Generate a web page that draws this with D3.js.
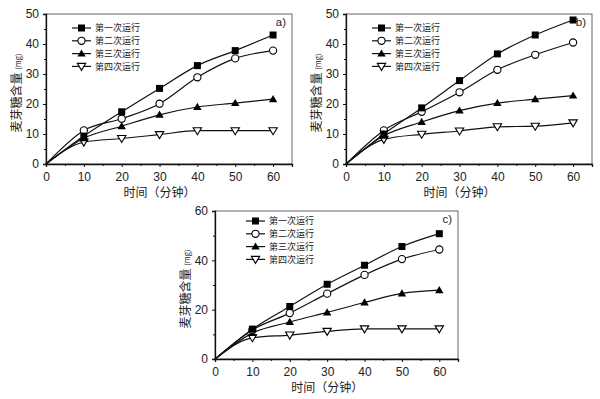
<!DOCTYPE html>
<meta charset="utf-8">
<script src="https://d3js.org/d3.v7.js"></script>
<style>
  body { margin: 0; background: #fff; }
  text { fill: #222; }
</style>
<div id="chart"></div>
<script>
// time points (minutes)
const times = [0, 10, 20, 30, 40, 50, 60];
const seriesNames = ["第一次运行", "第二次运行", "第三次运行", "第四次运行"];

// panel a
const aRun1 = [0, 9.3, 17.4, 25.2, 32.8, 37.8, 43.0];
const aRun2 = [0, 11.2, 15.1, 20.1, 28.9, 35.2, 37.8];
const aRun3 = [0, 8.6, 12.6, 16.4, 19.0, 20.3, 21.6];
const aRun4 = [0, 7.3, 8.5, 9.8, 11.1, 11.1, 11.1];

// panel b
const bRun1 = [0, 10.0, 18.7, 27.8, 36.7, 43.0, 48.0];
const bRun2 = [0, 11.2, 17.4, 23.9, 31.4, 36.4, 40.5];
const bRun3 = [0, 9.4, 14.0, 17.8, 20.3, 21.6, 22.8];
const bRun4 = [0, 8.2, 9.9, 11.0, 12.4, 12.6, 13.7];

// panel c
const cRun1 = [0, 12.1, 21.3, 30.3, 38.0, 45.6, 50.8];
const cRun2 = [0, 11.8, 18.6, 26.5, 34.1, 40.5, 44.4];
const cRun3 = [0, 10.5, 15.0, 18.9, 22.9, 26.6, 27.9];
const cRun4 = [0, 8.6, 9.7, 11.2, 12.2, 12.2, 12.2];

const xTicks = [0, 10, 20, 30, 40, 50, 60];
const yTicksAB = [0, 10, 20, 30, 40, 50];
const yTicksC = [0, 20, 40, 60];

const svg = d3.select("#chart").append("svg")
  .attr("width", 600).attr("height", 399)
  .style("font-family", "'Liberation Sans', Arial, sans-serif");

const cjk = "'Noto Sans CJK SC', sans-serif";

function drawPanel(opts) {
  const x = d3.scaleLinear().domain([0, 65]).range([opts.left, opts.right]);
  const y = d3.scaleLinear().domain([0, opts.ymax]).range([opts.bottom, opts.top]);
  const g = svg.append("g");

  // frame
  g.append("rect")
    .attr("x", x(0)).attr("y", y(opts.ymax))
    .attr("width", x(65) - x(0)).attr("height", y(0) - y(opts.ymax))
    .attr("fill", "none").attr("stroke", "#666").attr("stroke-width", 1);

  // axes
  const xa = g.append("g").attr("transform", `translate(0,${y(0)})`)
    .call(d3.axisBottom(x).tickValues(xTicks).tickSize(3).tickPadding(5));
  g.append("g").attr("transform", `translate(0,${y(0)})`)
    .call(d3.axisBottom(x).tickValues(d3.range(5, 60, 10)).tickSize(2).tickFormat(""))
    .select(".domain").remove();
  const ya = g.append("g").attr("transform", `translate(${x(0)},0)`)
    .call(d3.axisLeft(y).tickValues(opts.yticks).tickSize(3).tickPadding(4));
  g.append("g").attr("transform", `translate(${x(0)},0)`)
    .call(d3.axisLeft(y).tickValues(opts.yminor).tickSize(2).tickFormat(""))
    .select(".domain").remove();
  g.selectAll(".domain").attr("stroke", "#111").attr("stroke-width", 1.3);
  g.selectAll(".tick line").attr("stroke", "#111");
  xa.selectAll("text").attr("font-size", 12).attr("fill", "#222");
  ya.selectAll("text").attr("font-size", 12).attr("fill", "#222");

  // axis titles
  g.append("text")
    .attr("x", (x(0) + x(60)) / 2).attr("y", y(0) + 33)
    .attr("text-anchor", "middle").attr("font-size", 12)
    .style("font-family", cjk).text("时间（分钟）");
  const yl = g.append("text")
    .attr("transform", `translate(${x(0) - 25},${(y(0) + y(opts.ymax)) / 2 + 4}) rotate(-90)`)
    .attr("text-anchor", "middle").attr("font-size", 12)
    .style("font-family", cjk);
  yl.append("tspan").text("麦芽糖含量 ");
  yl.append("tspan").attr("font-size", 7.5).text("(mg)");

  // panel letter
  g.append("text")
    .attr("x", x(65) - 6).attr("y", y(opts.ymax) + 12)
    .attr("text-anchor", "end").attr("font-size", 11.5).text(opts.label);

  const line = d3.line().x(d => x(d[0])).y(d => y(d[1])).curve(d3.curveMonotoneX);
  const shapes = ["square", "circle", "up", "down"];

  function marker(sel, shape, cx, cy) {
    if (shape === "square") {
      sel.append("rect").attr("x", cx - 3.5).attr("y", cy - 3.5)
        .attr("width", 7).attr("height", 7).attr("fill", "#000");
    } else if (shape === "circle") {
      sel.append("circle").attr("cx", cx).attr("cy", cy).attr("r", 3.6)
        .attr("fill", "#fff").attr("stroke", "#000").attr("stroke-width", 1.1);
    } else if (shape === "up") {
      sel.append("path")
        .attr("d", `M${cx},${cy - 4.2}L${cx + 4.2},${cy + 3}L${cx - 4.2},${cy + 3}Z`)
        .attr("fill", "#000");
    } else {
      sel.append("path")
        .attr("d", `M${cx - 4.2},${cy - 3}L${cx + 4.2},${cy - 3}L${cx},${cy + 4}Z`)
        .attr("fill", "#fff").attr("stroke", "#000").attr("stroke-width", 1.1);
    }
  }

  // draw series in reverse so filled markers stay on top
  opts.series.slice().reverse().forEach((vals, ri) => {
    const i = opts.series.length - 1 - ri;
    const pts = times.map((t, k) => [t, vals[k]]);
    g.append("path").datum(pts).attr("d", line)
      .attr("fill", "none").attr("stroke", "#111").attr("stroke-width", 1.2);
    pts.slice(1).forEach(p => marker(g, shapes[i], x(p[0]), y(p[1])));
  });

  // legend
  seriesNames.forEach((name, i) => {
    const ly = opts.legY + i * 12.8;
    g.append("line").attr("x1", opts.legX).attr("x2", opts.legX + 19)
      .attr("y1", ly).attr("y2", ly).attr("stroke", "#111").attr("stroke-width", 1.2);
    marker(g, shapes[i], opts.legX + 9.5, ly);
    g.append("text").attr("x", opts.legX + 23).attr("y", ly + 3.3)
      .attr("font-size", 9).style("font-family", cjk).text(name);
  });
}

drawPanel({ left: 46, right: 292, top: 14, bottom: 164, ymax: 50,
  yticks: yTicksAB, yminor: d3.range(5, 50, 10), label: "a)",
  series: [aRun1, aRun2, aRun3, aRun4], legX: 72, legY: 28 });
drawPanel({ left: 346, right: 592, top: 14, bottom: 164, ymax: 50,
  yticks: yTicksAB, yminor: d3.range(5, 50, 10), label: "b)",
  series: [bRun1, bRun2, bRun3, bRun4], legX: 372, legY: 28 });
drawPanel({ left: 215, right: 458, top: 211, bottom: 359, ymax: 60,
  yticks: yTicksC, yminor: d3.range(10, 60, 20), label: "c)",
  series: [cRun1, cRun2, cRun3, cRun4], legX: 246, legY: 221 });
</script>
